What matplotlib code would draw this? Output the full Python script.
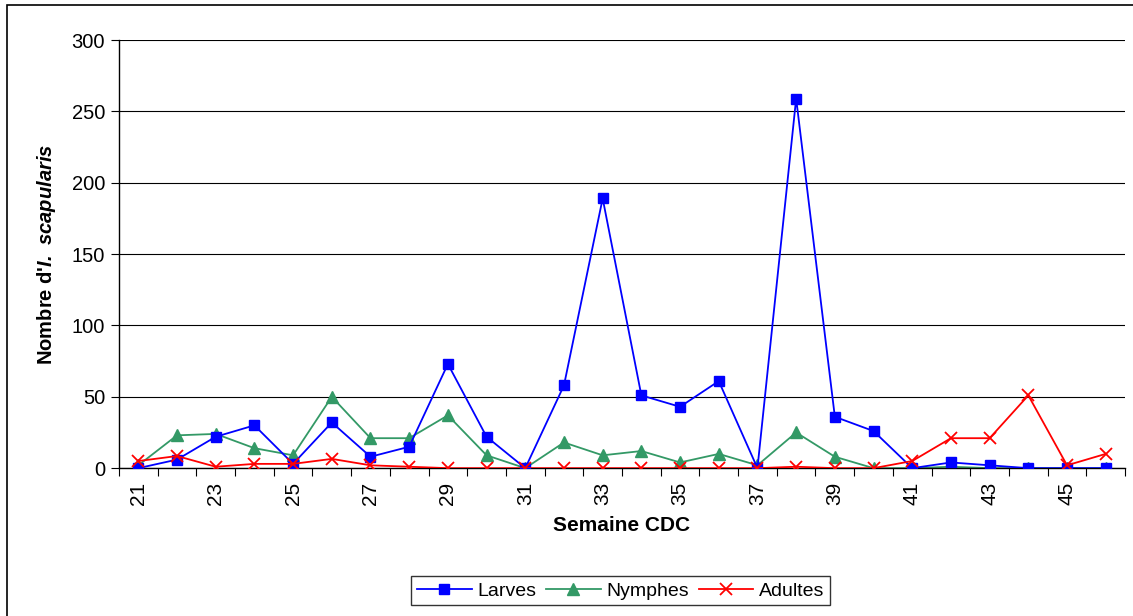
import numpy as np
import matplotlib
matplotlib.use("Agg")
import matplotlib.pyplot as plt
from matplotlib.patches import Rectangle

plt.rcParams['font.family'] = ['Liberation Sans', 'DejaVu Sans']
plt.rcParams['mathtext.fontset'] = 'custom'
plt.rcParams['mathtext.bfit'] = 'Liberation Sans:italic:bold'

# semaines CDC
semaines = list(range(21, 47))
larves = [0, 6, 22, 30, 3, 32, 8, 15, 73, 22, 0, 58, 189, 51, 43, 61, 0, 259,
          36, 26, 0, 4, 2, 0, 0, 0]
nymphes = [2, 23, 24, 14, 9, 50, 21, 21, 37, 9, 0, 18, 9, 12, 4, 10, 2, 25,
           8, 0, 0, 1, 0, 0, 0, 0]
adultes = [5, 8.5, 1, 3, 3, 6.5, 2, 1, 0, 0, 0, 0, 0, 0, 0, 0, 0, 1,
           0, 0, 5, 21, 21, 51, 2, 10]

fig = plt.figure(figsize=(11.33, 6.16), dpi=100)
ax = fig.add_axes([0.105, 0.240, 0.888, 0.695])

x = np.arange(len(semaines))
ax.plot(x, larves, color='#0000FF', marker='s', ms=7, lw=1.3, label='Larves', zorder=3)
ax.plot(x, nymphes, color='#339966', marker='^', ms=8, lw=1.3, label='Nymphes', zorder=2)
ax.plot(x, adultes, color='#FF0000', marker='x', ms=9, mew=1.3, lw=1.3, label='Adultes', zorder=4)

ax.set_xlim(-0.5, len(semaines) - 0.5)
ax.set_ylim(0, 300)
ax.set_yticks(range(0, 301, 50))
ax.yaxis.grid(True, color='black', lw=0.8)
ax.set_axisbelow(True)

# ticks aux limites des categories, etiquettes une sur deux
ax.set_xticks(np.arange(-0.5, len(semaines), 1), minor=False)
ax.set_xticklabels([])
ax.set_xticks(x[::2], minor=True)
ax.set_xticklabels([str(s) for s in semaines[::2]], minor=True, rotation=90)
ax.tick_params(axis='x', which='minor', length=0, labelsize=15, pad=10)
ax.tick_params(axis='x', which='major', length=6, width=0.8)
ax.tick_params(axis='y', length=6, width=0.8, labelsize=14.5, pad=4)

for s in ['top', 'right']:
    ax.spines[s].set_visible(False)
ax.spines['left'].set_linewidth(1)
ax.spines['bottom'].set_linewidth(1)

ax.set_xlabel('Semaine CDC', fontsize=15, fontweight='bold', labelpad=8)
ax.set_ylabel(r"Nombre d'$\mathbfit{I.\ scapularis}$", fontsize=14.5, fontweight='bold', labelpad=10)

leg = fig.legend(loc='center', bbox_to_anchor=(0.548, 0.041), ncol=3, fontsize=14,
                 frameon=True, fancybox=False, edgecolor='black', borderpad=0.3,
                 handlelength=2.8, columnspacing=0.5, handletextpad=0.3)
leg.get_frame().set_linewidth(1)

# cadre du graphique
fig.patches.append(Rectangle((7 / 1133, -0.02), 1.1, 1 - 5 / 616 + 0.02, transform=fig.transFigure,
                             fill=False, edgecolor='black', lw=1.2, clip_on=False))

fig.savefig('out.png', dpi=100)
